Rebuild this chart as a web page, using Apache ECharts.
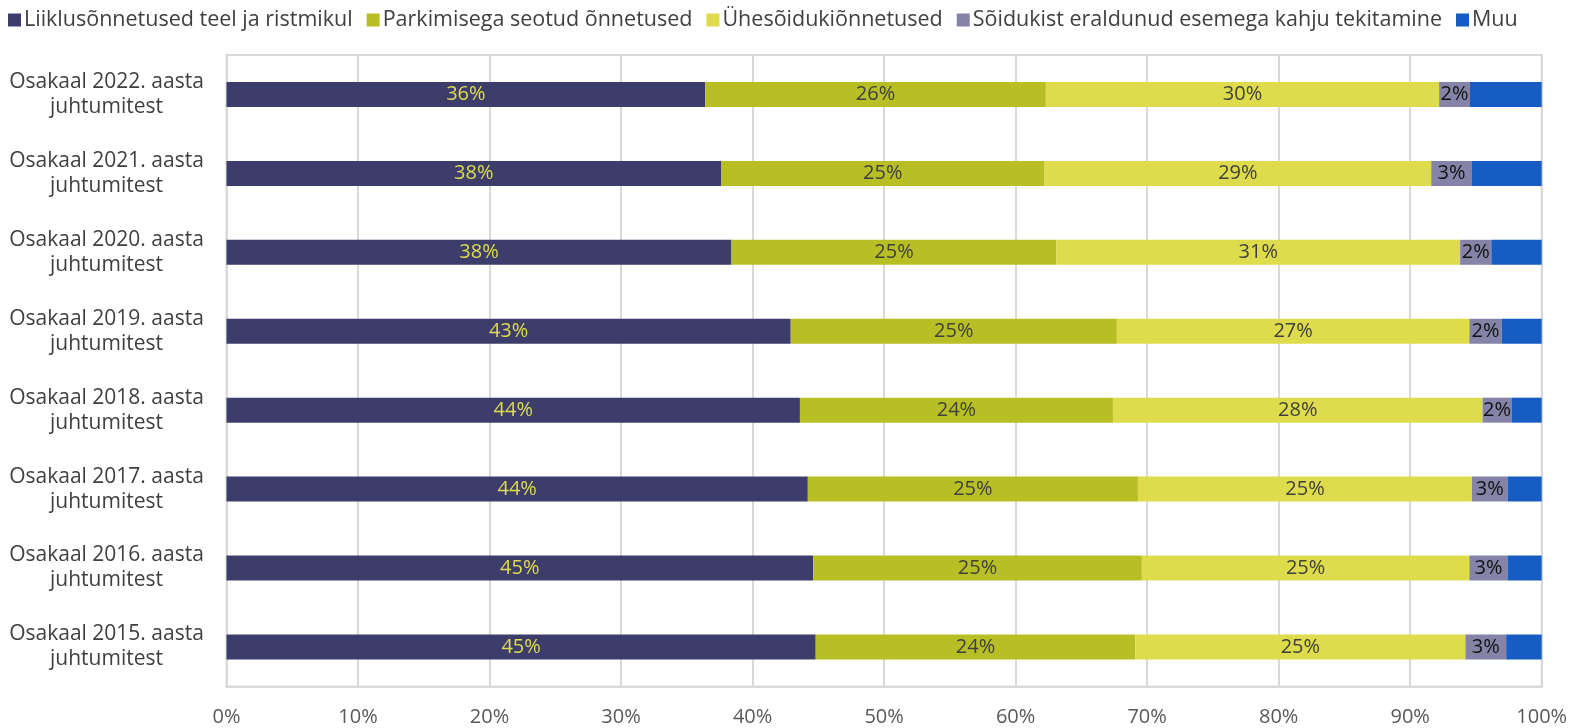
<!DOCTYPE html>
<html>
<head>
<meta charset="utf-8">
<script src="https://cdn.jsdelivr.net/npm/echarts@6/dist/echarts.min.js"></script>
<style>html,body{margin:0;padding:0;background:#fff}#c{width:1585px;height:728px}</style>
</head>
<body>
<div id="c"></div>
<script>
const categories = [
  "Osakaal 2022. aasta\njuhtumitest",
  "Osakaal 2021. aasta\njuhtumitest",
  "Osakaal 2020. aasta\njuhtumitest",
  "Osakaal 2019. aasta\njuhtumitest",
  "Osakaal 2018. aasta\njuhtumitest",
  "Osakaal 2017. aasta\njuhtumitest",
  "Osakaal 2016. aasta\njuhtumitest",
  "Osakaal 2015. aasta\njuhtumitest"
];
const seriesNames = [
  "Liiklusõnnetused teel ja ristmikul",
  "Parkimisega seotud õnnetused",
  "Ühesõidukiõnnetused",
  "Sõidukist eraldunud esemega kahju tekitamine",
  "Muu"
];
const liiklus   = [36.4, 37.6, 38.4, 42.9, 43.6, 44.2, 44.6, 44.8];
const parkimine = [25.9, 24.6, 24.7, 24.8, 23.8, 25.1, 25.0, 24.3];
const yhesoiduk = [29.9, 29.4, 30.7, 26.8, 28.1, 25.4, 24.9, 25.1];
const eseme     = [2.35, 3.1, 2.37, 2.45, 2.2, 2.7, 2.9, 3.1];
const muu       = [5.45, 5.3, 3.83, 3.05, 2.3, 2.6, 2.6, 2.7];
const xTicks = [0,10,20,30,40,50,60,70,80,90,100];

const colors = ["#3D3D6B", "#B8BF24", "#DEDC4C", "#8584A8", "#165CC2"];
const labelColors = ["#DEDC4C", "#404040", "#404040", "#111111", null];
const values = [liiklus, parkimine, yhesoiduk, eseme, muu];
const FONT = "Open Sans";

const chart = echarts.init(document.getElementById('c'), null, {renderer:'canvas'});
chart.setOption({
  animation:false,
  color: colors,
  textStyle:{fontFamily:FONT},
  legend:{
    top:4, left:3,
    itemWidth:13, itemHeight:13, itemGap:14,
    icon:'rect',
    textStyle:{fontSize:21.5, color:'#404040', fontFamily:FONT, padding:[0,0,0,-2]},
    data: seriesNames
  },
  grid:{left:226.5, right:43.3, top:55, bottom:41.6, containLabel:false,
        show:true, borderColor:'#D9D9D9', borderWidth:2},
  xAxis:{
    type:'value', min:0, max:100, interval:10,
    axisLabel:{formatter: v => xTicks.includes(v) ? v + '%' : '', fontSize:20, color:'#595959', margin:21, fontFamily:FONT},
    splitLine:{show:true, lineStyle:{color:'#D9D9D9', width:2}},
    axisLine:{show:true, lineStyle:{color:'#D9D9D9', width:2}},
    axisTick:{show:false}
  },
  yAxis:{
    type:'category', inverse:true, data:categories,
    axisLine:{show:true, lineStyle:{color:'#D9D9D9', width:2}},
    axisTick:{show:false},
    axisLabel:{fontSize:21, color:'#404040', lineHeight:25, align:'center', margin:120, fontFamily:FONT}
  },
  series: values.map((arr, i) => ({
    name: seriesNames[i],
    type:'bar', stack:'total', barWidth:25,
    data: arr,
    itemStyle:{color: colors[i]},
    label: labelColors[i] ? {
      show:true, position:'inside', fontSize:20, color:labelColors[i], fontFamily:FONT,
      formatter: p => Math.round(p.value) + '%'
    } : {show:false}
  }))
});
</script>
</body>
</html>
